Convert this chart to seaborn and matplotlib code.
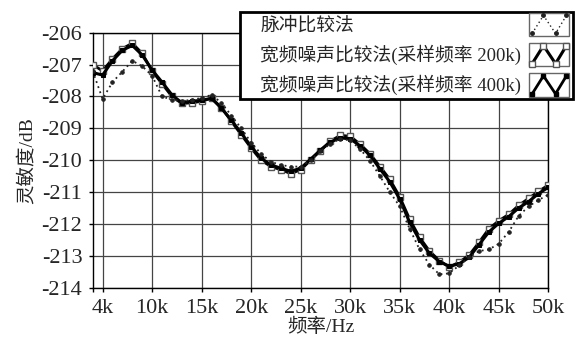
import matplotlib
matplotlib.use("Agg")
import matplotlib.pyplot as plt
import numpy as np
import pandas as pd
import seaborn as sns
from matplotlib.legend_handler import HandlerBase
from matplotlib.lines import Line2D
from matplotlib.offsetbox import DrawingArea, HPacker
from matplotlib.patches import Rectangle

# frequency in kHz
FREQ_K = list(range(4, 51))

PULSE = [-207.2, -208.08, -207.55, -207.22, -206.88, -207.05, -207.35, -208.0, -208.1, -208.15,
         -208.1, -208.05, -207.95, -208.2, -208.6, -209.0, -209.45, -209.8, -210.05, -210.15,
         -210.2, -210.2, -210.0, -209.72, -209.48, -209.33, -209.38, -209.65, -210.02, -210.5,
         -211.0, -211.45, -212.15, -212.8, -213.28, -213.58, -213.55, -213.3, -213.05, -212.85,
         -212.8, -212.62, -212.25, -211.75, -211.45, -211.25, -211.08]

NOISE_200K = [-207.0, -207.2, -206.82, -206.5, -206.33, -206.65, -207.2, -207.6, -208.0, -208.22,
              -208.2, -208.15, -208.05, -208.35, -208.78, -209.2, -209.62, -210.0, -210.2, -210.3,
              -210.42, -210.3, -210.0, -209.7, -209.4, -209.22, -209.25, -209.5, -209.8, -210.2,
              -210.6, -211.15, -211.85, -212.42, -212.85, -213.15, -213.35, -213.2, -212.98, -212.58,
              -212.15, -211.9, -211.7, -211.42, -211.2, -210.98, -210.78]

NOISE_400K = [-207.25, -207.33, -206.88, -206.55, -206.4, -206.7, -207.17, -207.55, -207.95, -208.2,
              -208.15, -208.12, -208.06, -208.37, -208.74, -209.15, -209.57, -209.94, -210.15, -210.25,
              -210.35, -210.25, -209.97, -209.68, -209.43, -209.3, -209.33, -209.55, -209.85, -210.27,
              -210.68, -211.22, -211.95, -212.5, -212.92, -213.18, -213.33, -213.25, -213.05, -212.65,
              -212.25, -211.98, -211.77, -211.5, -211.3, -211.05, -210.85]

LABELS = ["脉冲比较法", "宽频噪声比较法(采样频率 200k)", "宽频噪声比较法(采样频率 400k)"]
X_TICKS = [5000, 10000, 15000, 20000, 25000, 30000, 35000, 40000, 45000, 50000]
X_TICKLABELS = ["4k", "10k", "15k", "20k", "25k", "30k", "35k", "40k", "45k", "50k"]
Y_TICKS = [-206, -207, -208, -209, -210, -211, -212, -213, -214]

sns.set_style("ticks")
plt.rcParams["font.family"] = ["Liberation Serif", "Noto Sans CJK SC", "DejaVu Sans"]
plt.rcParams["axes.unicode_minus"] = False


class ZigzagHandler(HandlerBase):
    """draw the legend key as a small framed zigzag"""

    def create_artists(self, legend, orig_handle, xdescent, ydescent,
                       width, height, fontsize, trans):
        x0, y0 = -xdescent, -ydescent
        pad = 0.15 * height
        box = Rectangle((x0, y0 - pad), width, height + 2 * pad, fill=False,
                        ec="#666666", lw=1.0, transform=trans)
        xs = x0 + width * np.array([0.08, 0.36, 0.66, 0.93])
        ys = y0 + height * np.array([0.0, 1.0, 0.0, 1.0])
        ln = Line2D(xs, ys)
        ln.update_from(orig_handle)
        ln.set_transform(trans)
        return [box, ln]


fig = plt.figure(figsize=(5.84, 3.40), dpi=100)
ax = fig.add_axes([0.1587, 0.1538, 0.7802, 0.7500])

df = pd.DataFrame({"freq": np.array(FREQ_K) * 1000, "pulse": PULSE,
                   "n200": NOISE_200K, "n400": NOISE_400K})

sns.lineplot(data=df, x="freq", y="n200", ax=ax, color="black", lw=2.0,
             marker="s", markersize=5, markerfacecolor="white",
             markeredgecolor="#555555", markeredgewidth=1.0, zorder=3)
sns.lineplot(data=df, x="freq", y="n400", ax=ax, color="black", lw=2.2,
             marker="s", markersize=3, markerfacecolor="black",
             markeredgecolor="black", zorder=4)
sns.lineplot(data=df, x="freq", y="pulse", ax=ax, color="#222222", lw=1.3,
             ls=(0, (1.0, 2.0)), marker="o", markersize=2.5,
             markerfacecolor="#222222", markeredgecolor="#222222", zorder=5)

ax.set_xlim(4000, 50000)
ax.set_ylim(-214, -206)
ax.set_xticks(X_TICKS)
ax.set_xticklabels(X_TICKLABELS)
ax.set_xticks([4000], minor=True)
ax.set_yticks(Y_TICKS)
ax.set_yticklabels([str(v) for v in Y_TICKS])
ax.tick_params(axis="both", which="both", direction="out", length=3,
               width=1, labelsize=16, color="black")
ax.tick_params(axis="y", pad=4.5)
ax.tick_params(axis="x", pad=5)
ax.grid(True, color="#444444", lw=0.9)
for sp in ax.spines.values():
    sp.set_color("black")
    sp.set_linewidth(1.0)

ax.set_xlabel("频率/Hz", fontsize=14, labelpad=0)
ax.set_ylabel("灵敏度/dB", fontsize=14, labelpad=4)

handles = [
    Line2D([], [], color="#222222", lw=1.0, ls=(0, (1.0, 2.0)), marker="o",
           markersize=2.5, markerfacecolor="#222222"),
    Line2D([], [], color="black", lw=2.2, marker="s", markersize=4,
           markerfacecolor="white", markeredgecolor="#555555"),
    Line2D([], [], color="black", lw=2.0, marker="s", markersize=3,
           markerfacecolor="black"),
]
leg = fig.legend(handles, LABELS, loc="upper right",
                 bbox_to_anchor=(573 / 584, 1 - 11.7 / 340),
                 handler_map={Line2D: ZigzagHandler()}, markerfirst=False,
                 fontsize=13.5, handlelength=2.15, handleheight=1.1,
                 labelspacing=0.53, handletextpad=0.4, borderpad=0.2,
                 borderaxespad=0, fancybox=False, framealpha=1,
                 edgecolor="black")
leg.get_frame().set_linewidth(2.0)
leg.set_zorder(10)

# keep the text left aligned (with a left margin) and the keys in a right column
rows = leg._legend_handle_box.get_children()[0].get_children()
for r in rows:
    txt, key = r.get_children()
    r._children = [HPacker(children=[DrawingArea(12, 0), txt], pad=0, sep=0,
                           align="baseline"), key]
fig.canvas.draw()
renderer = fig.canvas.get_renderer()
wmax = max(r.get_bbox(renderer).width for r in rows)
for r in rows:
    r.mode = "expand"
    r.width = wmax

fig.savefig("out.png", dpi=100, facecolor="white")
